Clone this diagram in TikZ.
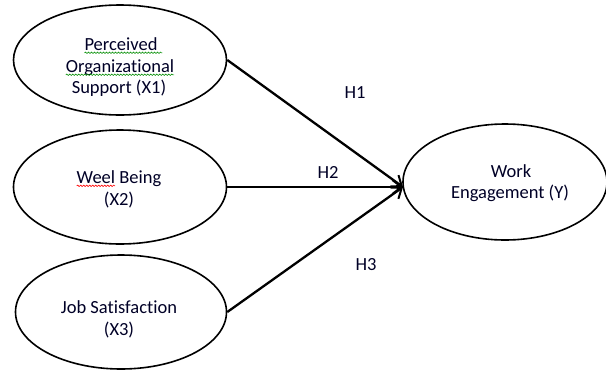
\documentclass[tikz,border=0pt]{standalone}
\usepackage{fontspec}
\setmainfont[Ligatures=NoCommon]{Carlito}
\usetikzlibrary{arrows.meta,shapes.geometric,decorations.pathmorphing}
\begin{document}
\begin{tikzpicture}[x=1pt,y=-1pt,
  var/.style={ellipse,draw,line width=1.6pt,inner sep=0pt},
  txt/.style={anchor=base,inner sep=0pt,outer sep=0pt,
    font=\fontsize{18.5}{22}\selectfont,text=black!85!blue},
  squig/.style={line width=0.6pt,decorate,
    decoration={snake,amplitude=0.7pt,segment length=3pt}},
  link/.style={line width=2.3pt,-{Straight Barb[length=9pt,width=14pt,line width=2pt]}}]
\useasboundingbox (0,0) rectangle (606,373);
% ellipses
\node[var,minimum width=213pt,minimum height=110pt] (e1) at (120,60) {};
\node[var,minimum width=213pt,minimum height=114pt] (e2) at (120,187) {};
\node[var,minimum width=211pt,minimum height=114pt] (e3) at (121,312) {};
\node[var,minimum width=204pt,minimum height=116pt] (w) at (505,182) {};
% texts
\node[txt] (p1) at (121,50) {Perceived};
\node[txt] (p2) at (120,72) {Organizational};
\node[txt] (p3) at (119,93) {Support (X1)};
\node[txt] (q1) at (119,183) {\phantom{Weel} Being};
\node[txt,anchor=base west] (q0) at (q1.base west) {Weel};
\node[txt] (q2) at (119,205) {(X2)};
\node[txt] (r1) at (119,313) {Job Satisfaction};
\node[txt] (r2) at (119,335) {(X3)};
\node[txt] (s1) at (511,177) {Work};
\node[txt] (s2) at (510,198) {Engagement (Y)};
% spell-check squiggles
\draw[squig,green!55!black] ([yshift=-2.8pt]p1.base west) -- ([yshift=-2.8pt,xshift=5pt]p1.base east);
\draw[squig,green!55!black] ([yshift=-2.8pt]p2.base west) -- ([yshift=-2.8pt]p2.base east);
\draw[squig,red] ([yshift=-2.8pt]q0.base west) -- ([yshift=-2.8pt]q0.base east);
% connectors
\coordinate (tip) at (403,187);
\draw[link] (e1.east) -- (tip);
\draw[link] (e2.east) -- (tip);
\draw[link] (e3.east) -- (tip);
% hypothesis labels
\node[txt] (h1) at (355,98) {H1};
\node[txt] (h2) at (328,178) {H2};
\node[txt] (h3) at (366,270) {H3};
\end{tikzpicture}
\end{document}
